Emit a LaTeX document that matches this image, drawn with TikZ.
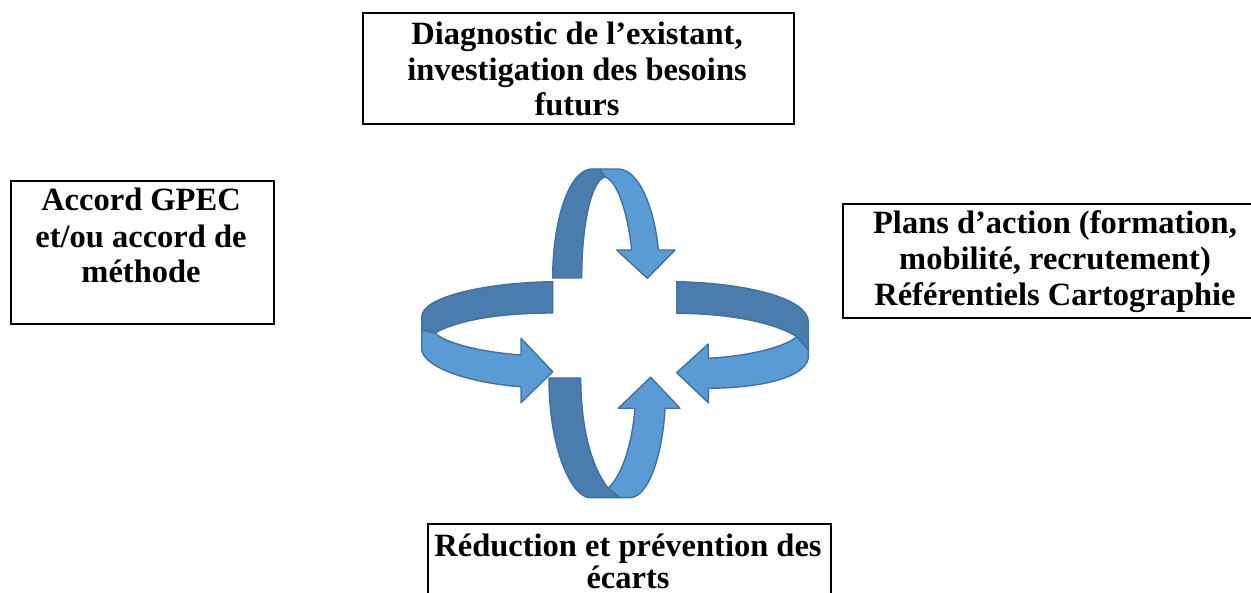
\documentclass[tikz,border=0pt]{standalone}
\usepackage{fontspec}
\setmainfont{Liberation Serif}
\definecolor{bandlight}{HTML}{5B9BD5}
\definecolor{banddark}{HTML}{4A7DAD}
\definecolor{bandline}{HTML}{41719C}
\begin{document}
\begin{tikzpicture}[x=1pt,y=-1pt,
  box/.style={draw=black, line width=2pt, inner sep=0pt, anchor=north west},
  lbl/.style={anchor=base, inner sep=0pt, font=\fontsize{32.5}{35}\selectfont\bfseries},
  dark/.style={fill=banddark, draw=bandline, line width=1.4pt, line join=round},
  light/.style={fill=bandlight, draw=bandline, line width=1.4pt, line join=round}]
\useasboundingbox (0,0) rectangle (1251,593);
\fill[white] (0,0) rectangle (1251,593);

% boxes
\node[box, minimum width=431pt, minimum height=111pt] (top) at (362,12) {};
\node[box, minimum width=263pt, minimum height=143pt] (left) at (10,180) {};
\node[box, minimum width=430pt, minimum height=114pt] (right) at (842,203) {};
\node[box, minimum width=403pt, minimum height=90pt] (bottom) at (427,523) {};

% texts
\node[lbl] (t1) at (577,45) {Diagnostic de l’existant,};
\node[lbl] (t2) at (577,81) {investigation des besoins};
\node[lbl] (t3) at (577,116) {futurs};
\node[lbl] (l1) at (141,211) {Accord GPEC};
\node[lbl] (l2) at (141,248) {et/ou accord de};
\node[lbl] (l3) at (141,283) {méthode};
\node[lbl] (r1) at (1055,234) {Plans d’action (formation,};
\node[lbl] (r2) at (1055,270) {mobilité, recrutement)};
\node[lbl] (r3) at (1055,306) {Référentiels Cartographie};
\node[lbl] (b1) at (628,556) {Réduction et prévention des};
\node[lbl] (b2) at (628,588) {écarts};

% top arrow
\draw[dark] (552.7,278) .. controls (552.7,218) and (570,169) .. (592,169)
  -- (600,169) -- (605,177)
  .. controls (592,180) and (581.7,222) .. (581.7,278) -- cycle;
\draw[light] (600,169) -- (618,169)
  .. controls (640,169) and (655,212) .. (658.3,250)
  -- (675,250) -- (647.3,278.3) -- (616.7,250) -- (631.7,250)
  .. controls (628,215) and (618,181) .. (605,177) -- cycle;

% left arrow
\draw[dark] (552.7,281.7) .. controls (490,282.5) and (421.7,296) .. (421.7,317)
  -- (421.7,330) -- (435,333)
  .. controls (458,320) and (500,313) .. (552.7,313) -- cycle;
\draw[light] (421.7,330) -- (421.7,350)
  .. controls (425,368) and (470,383) .. (521,386.7)
  -- (521,402.7) -- (552.7,371.7) -- (521,338.3) -- (521,355)
  .. controls (480,352) and (445,343) .. (435,333) -- cycle;

% right arrow
\draw[dark] (676.7,281.7) .. controls (745,283) and (808.3,298) .. (808.3,322)
  -- (808.3,350) -- (796.7,336.7)
  .. controls (770,320) and (720,313.3) .. (676.7,313.3) -- cycle;
\draw[light] (796.7,336.7) -- (808.3,350) -- (808.3,358)
  .. controls (805,378) and (760,388) .. (708.3,388.3)
  -- (708.3,402.7) -- (676.7,372.7) -- (708.3,344) -- (708.3,358.3)
  .. controls (750,356) and (785,347) .. (796.7,336.7) -- cycle;

% bottom arrow
\draw[dark] (549,378) -- (580.7,378)
  .. controls (581,430) and (592,468) .. (608.3,488.3)
  -- (620,497.7) -- (590,497.7)
  .. controls (572,497.7) and (549,450) .. (549,378) -- cycle;
\draw[light] (608.3,488.3) -- (620,497.7) -- (630,497.7)
  .. controls (650,497) and (663,450) .. (665,408.3)
  -- (680,408.3) -- (650.7,377.3) -- (618.3,408.3) -- (635,408.3)
  .. controls (632,445) and (622,475) .. (608.3,488.3) -- cycle;
\end{tikzpicture}
\end{document}
